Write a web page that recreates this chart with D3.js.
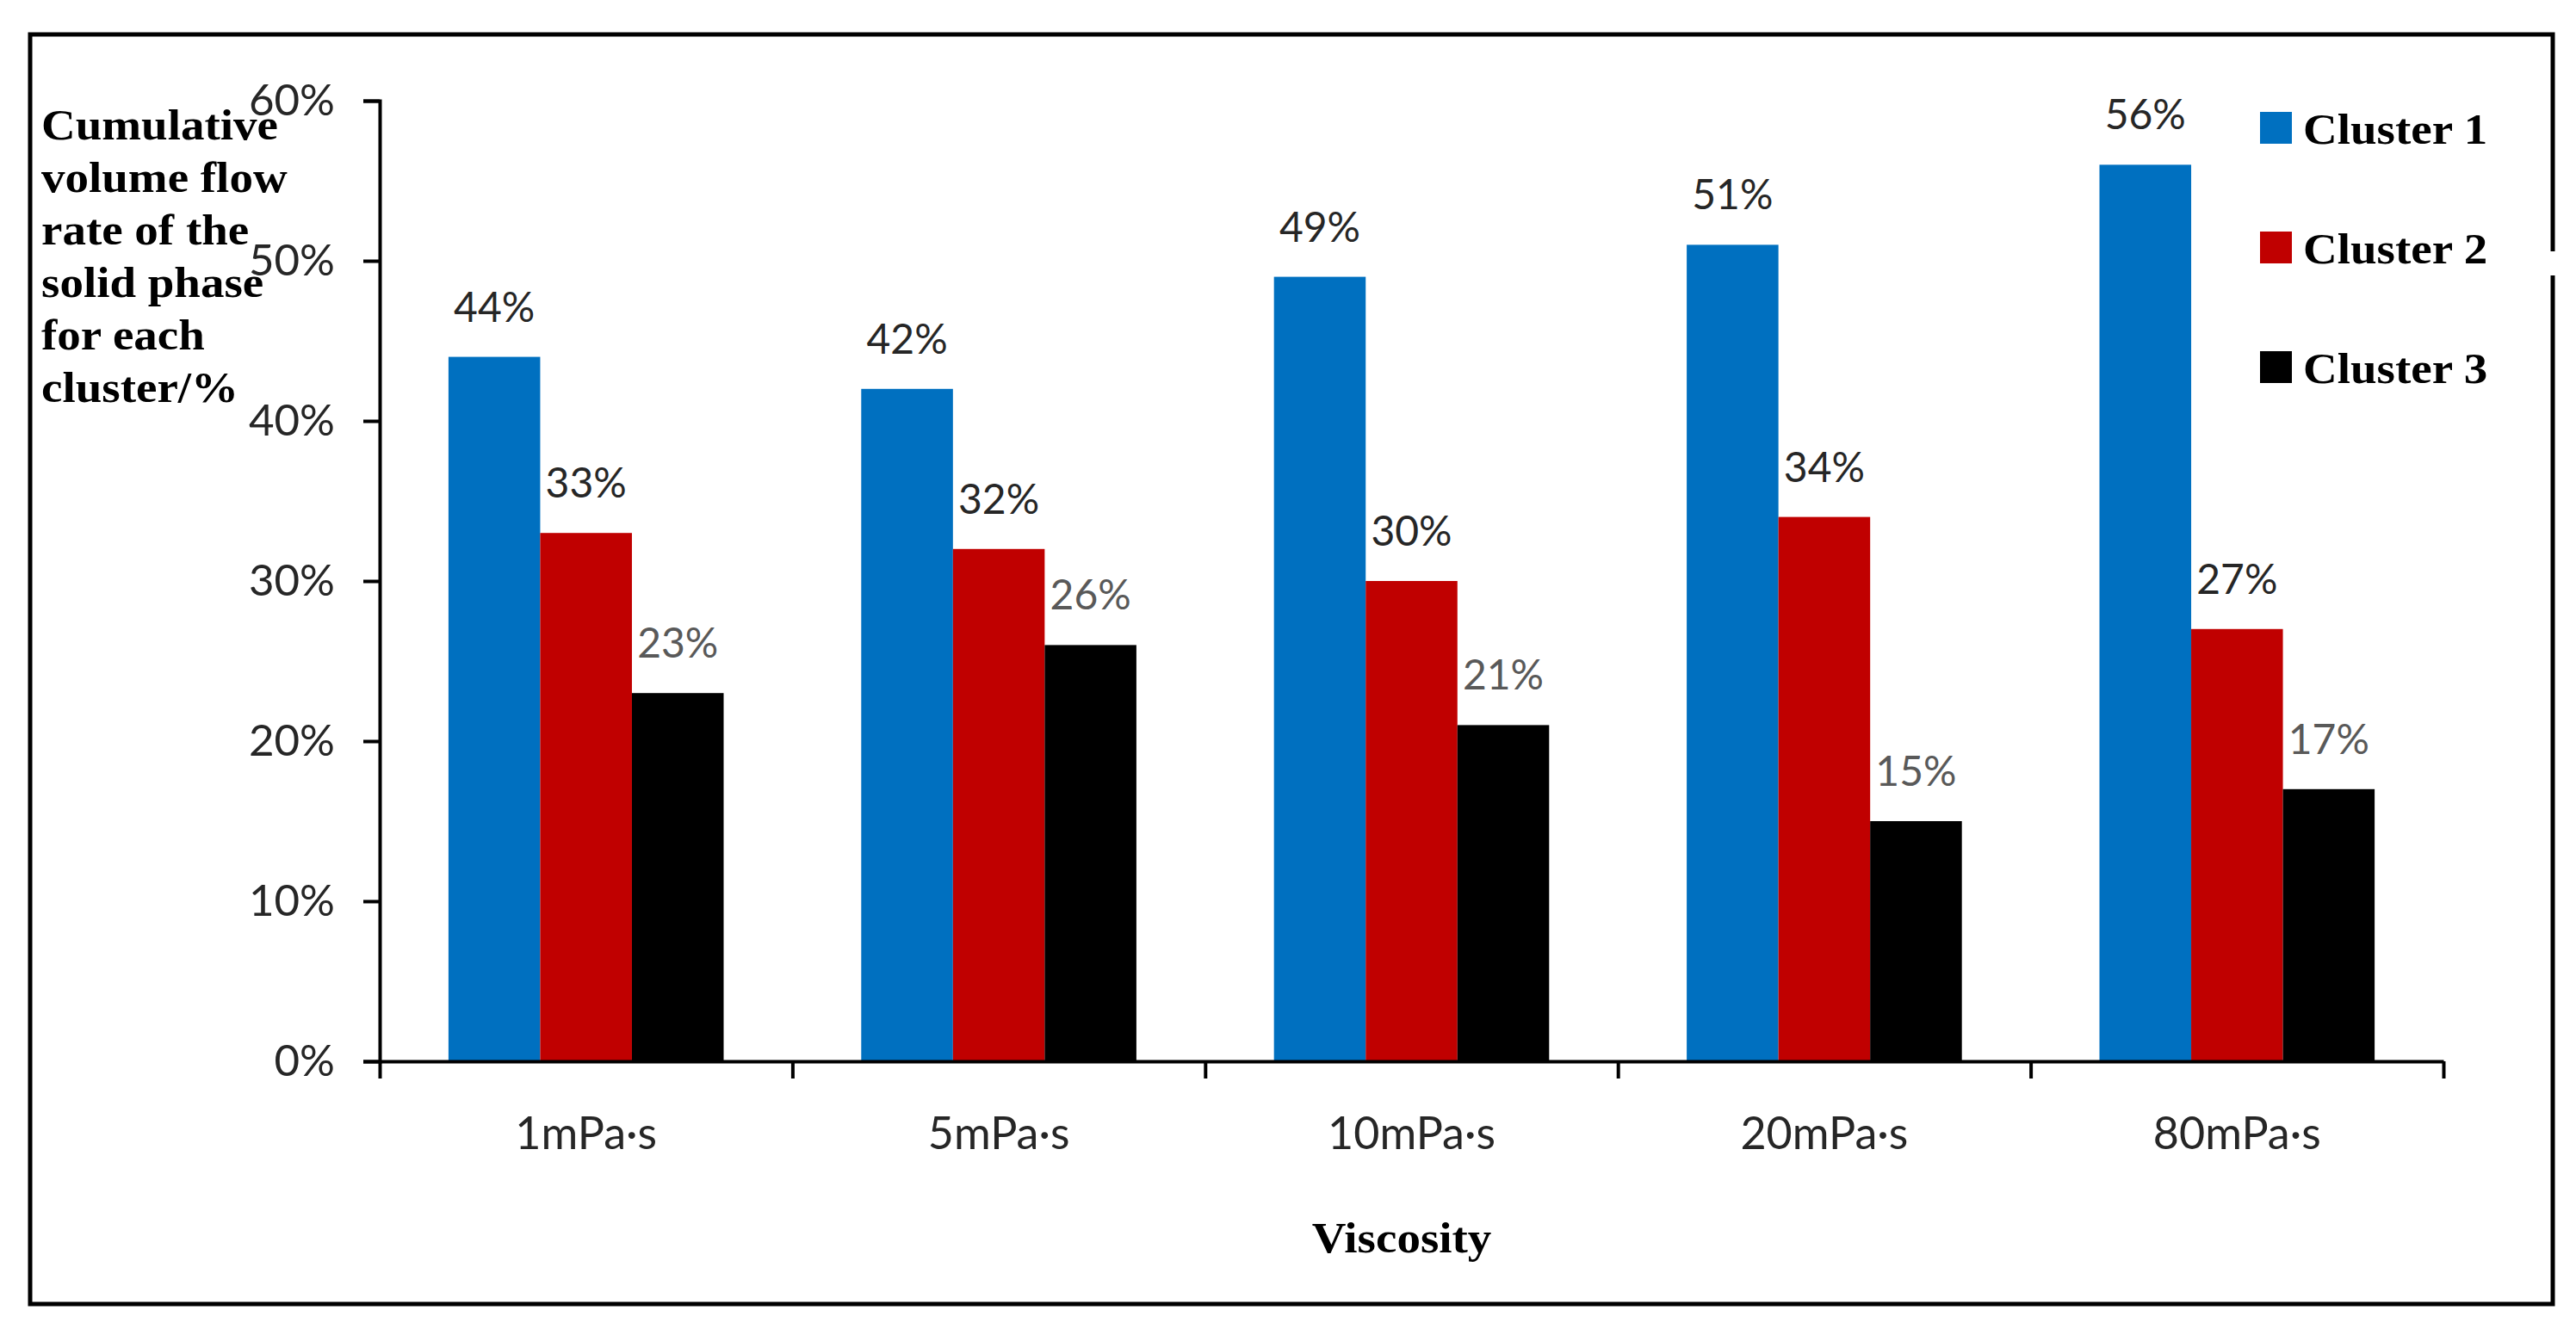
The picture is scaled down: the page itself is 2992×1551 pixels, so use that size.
<!DOCTYPE html>
<html>
<head>
<meta charset="utf-8">
<script src="https://cdn.jsdelivr.net/npm/d3@7"></script>
<style>
  body { margin: 0; background: #fff; }
</style>
</head>
<body>
<script>
var categories = ["1mPa\u00b7s", "5mPa\u00b7s", "10mPa\u00b7s", "20mPa\u00b7s", "80mPa\u00b7s"];
var seriesNames = ["Cluster 1", "Cluster 2", "Cluster 3"];
var cluster1 = [44, 42, 49, 51, 56];
var cluster2 = [33, 32, 30, 34, 27];
var cluster3 = [23, 26, 21, 15, 17];
var yTicks = [0, 10, 20, 30, 40, 50, 60];
var titleLines = ["Cumulative", "volume flow", "rate of the", "solid phase", "for each", "cluster/%"];

var colors = ["#0070C0", "#C00000", "#000000"];
var labelColors = ["#262626", "#262626", "#595959"];
var seriesValues = [cluster1, cluster2, cluster3];

var width = 2992, height = 1551;
var svg = d3.select("body").append("svg")
  .attr("width", width)
  .attr("height", height);

var serif = "'Liberation Serif', 'Times New Roman', serif";
var sans = "Lato, Carlito, Calibri, sans-serif";

// outer frame (right side has a gap where the legend sits)
svg.append("path")
  .attr("d", "M2965,292 V40 H35 V1515 H2965 V320")
  .attr("fill", "none")
  .attr("stroke", "#000")
  .attr("stroke-width", 5);

var x = d3.scaleBand()
  .domain(categories)
  .range([441, 2838]);

var xs = d3.scaleBand()
  .domain(seriesNames)
  .range([0, x.bandwidth()])
  .paddingOuter(0.75);

var y = d3.scaleLinear()
  .domain([0, 60])
  .range([1233, 117]);

// bars
var rows = categories.map(function(c, i) {
  return seriesNames.map(function(s, j) {
    return { cat: c, series: s, idx: j, value: seriesValues[j][i] };
  });
});

var groups = svg.selectAll("g.grp")
  .data(rows)
  .enter()
  .append("g")
  .attr("class", "grp")
  .attr("transform", function(d) { return "translate(" + x(d[0].cat) + ",0)"; });

groups.selectAll("rect")
  .data(function(d) { return d; })
  .enter()
  .append("rect")
  .attr("x", function(d) { return xs(d.series); })
  .attr("y", function(d) { return y(d.value); })
  .attr("width", xs.bandwidth())
  .attr("height", function(d) { return y(0) - y(d.value); })
  .attr("fill", function(d) { return colors[d.idx]; });

groups.selectAll("text")
  .data(function(d) { return d; })
  .enter()
  .append("text")
  .attr("x", function(d) { return xs(d.series) + xs.bandwidth() / 2; })
  .attr("y", function(d) { return y(d.value) - 41; })
  .attr("text-anchor", "middle")
  .attr("font-family", sans)
  .attr("font-size", 48)
  .attr("fill", function(d) { return labelColors[d.idx]; })
  .text(function(d) { return d.value + "%"; });

// y axis
var yAxis = svg.append("g")
  .attr("transform", "translate(441,0)")
  .call(d3.axisLeft(y)
    .tickValues(yTicks)
    .tickFormat(function(d) { return d + "%"; })
    .tickSize(19)
    .tickSizeOuter(19)
    .tickPadding(33));

yAxis.selectAll("path, line")
  .attr("stroke", "#000")
  .attr("stroke-width", 4);
yAxis.selectAll("text")
  .attr("font-family", sans)
  .attr("font-size", 51)
  .attr("fill", "#262626");

// x axis: ticks on category boundaries
var xb = d3.scaleLinear().domain([0, categories.length]).range(x.range());
var xAxis = svg.append("g")
  .attr("transform", "translate(0,1233)")
  .call(d3.axisBottom(xb)
    .tickValues(d3.range(categories.length + 1))
    .tickFormat("")
    .tickSize(20)
    .tickSizeOuter(0));

xAxis.selectAll("path, line")
  .attr("stroke", "#000")
  .attr("stroke-width", 4);

var xLabels = svg.append("g")
  .attr("transform", "translate(0,1233)")
  .call(d3.axisBottom(x).tickSize(0).tickPadding(65));
xLabels.select(".domain").remove();
xLabels.selectAll("text")
  .attr("font-family", sans)
  .attr("font-size", 52)
  .attr("fill", "#262626");

// axis titles
function serifText(tx, ty, str, anchor) {
  return svg.append("text")
    .attr("transform", "translate(" + tx + "," + ty + ") scale(1.1,1)")
    .attr("text-anchor", anchor || "start")
    .attr("font-family", serif)
    .attr("font-weight", "bold")
    .attr("font-size", 50)
    .attr("fill", "#000")
    .text(str);
}

titleLines.forEach(function(t, i) {
  serifText(48, 162 + i * 61, t);
});

serifText(1628, 1455, "Viscosity", "middle");

// legend
var legend = svg.selectAll("g.leg")
  .data(seriesNames)
  .enter()
  .append("g")
  .attr("class", "leg")
  .attr("transform", function(d, i) { return "translate(2625," + (130 + i * 139) + ")"; });

legend.append("rect")
  .attr("width", 37)
  .attr("height", 37)
  .attr("fill", function(d, i) { return colors[i]; });

legend.each(function(d) {
  d3.select(this).append("text")
    .attr("transform", "translate(50,37) scale(1.1,1)")
    .attr("font-family", serif)
    .attr("font-weight", "bold")
    .attr("font-size", 50)
    .attr("fill", "#000")
    .text(d);
});
</script>
</body>
</html>
